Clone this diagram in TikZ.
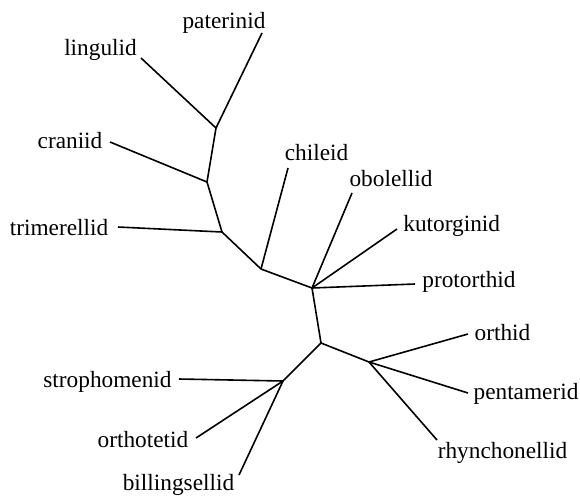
\documentclass[tikz,border=0pt]{standalone}
\usepackage{fontspec}
\setmainfont{Liberation Serif}
\begin{document}
\begin{tikzpicture}[x=1pt,y=-1pt,
  branch/.style={line width=1.6pt},
  taxon/.style={anchor=base,inner sep=0pt,font=\fontsize{23.3}{28}\selectfont}]
\useasboundingbox (0,0) rectangle (580,496);
% internal nodes
\coordinate (A) at (216,128);
\coordinate (B) at (207,182);
\coordinate (C) at (222,232);
\coordinate (D) at (261,269);
\coordinate (E) at (312,288);
\coordinate (F) at (321,343);
\coordinate (G) at (369,362);
\coordinate (H) at (283,381);
% leaf ends
\coordinate (pa) at (262,33);
\coordinate (li) at (141,58);
\coordinate (cr) at (110,142);
\coordinate (tr) at (118,227);
\coordinate (ch) at (288,168);
\coordinate (ob) at (352,193);
\coordinate (ku) at (397,229);
\coordinate (pr) at (415,284);
\coordinate (or) at (468,334);
\coordinate (pe) at (468,393);
\coordinate (rh) at (437,440);
\coordinate (st) at (179,379);
\coordinate (ot) at (196,438);
\coordinate (bi) at (239,475);
% labels
\node[taxon] (lpa) at (224,28.3) {paterinid};
\node[taxon] (lli) at (100.5,55) {lingulid};
\node[taxon] (lcr) at (70,148.3) {craniid};
\node[taxon] (ltr) at (59,235) {trimerellid};
\node[taxon] (lch) at (316.5,160.7) {chileid};
\node[taxon] (lob) at (391,186.7) {obolellid};
\node[taxon] (lku) at (451.7,231.7) {kutorginid};
\node[taxon] (lpr) at (469,287.3) {protorthid};
\node[taxon] (lor) at (502.5,340) {orthid};
\node[taxon] (lpe) at (526,399) {pentamerid};
\node[taxon] (lrh) at (502.5,458.3) {rhynchonellid};
\node[taxon] (lst) at (107.5,387.3) {strophomenid};
\node[taxon] (lot) at (143,447.7) {orthotetid};
\node[taxon] (lbi) at (178.5,490) {billingsellid};
% branches
\draw[branch] (pa) -- (A);
\draw[branch] (li) -- (A);
\draw[branch] (A) -- (B);
\draw[branch] (cr) -- (B);
\draw[branch] (B) -- (C);
\draw[branch] (tr) -- (C);
\draw[branch] (C) -- (D);
\draw[branch] (ch) -- (D);
\draw[branch] (D) -- (E);
\draw[branch] (ob) -- (E);
\draw[branch] (ku) -- (E);
\draw[branch] (pr) -- (E);
\draw[branch] (E) -- (F);
\draw[branch] (F) -- (G);
\draw[branch] (or) -- (G);
\draw[branch] (pe) -- (G);
\draw[branch] (rh) -- (G);
\draw[branch] (F) -- (H);
\draw[branch] (st) -- (H);
\draw[branch] (ot) -- (H);
\draw[branch] (bi) -- (H);
\end{tikzpicture}
\end{document}
